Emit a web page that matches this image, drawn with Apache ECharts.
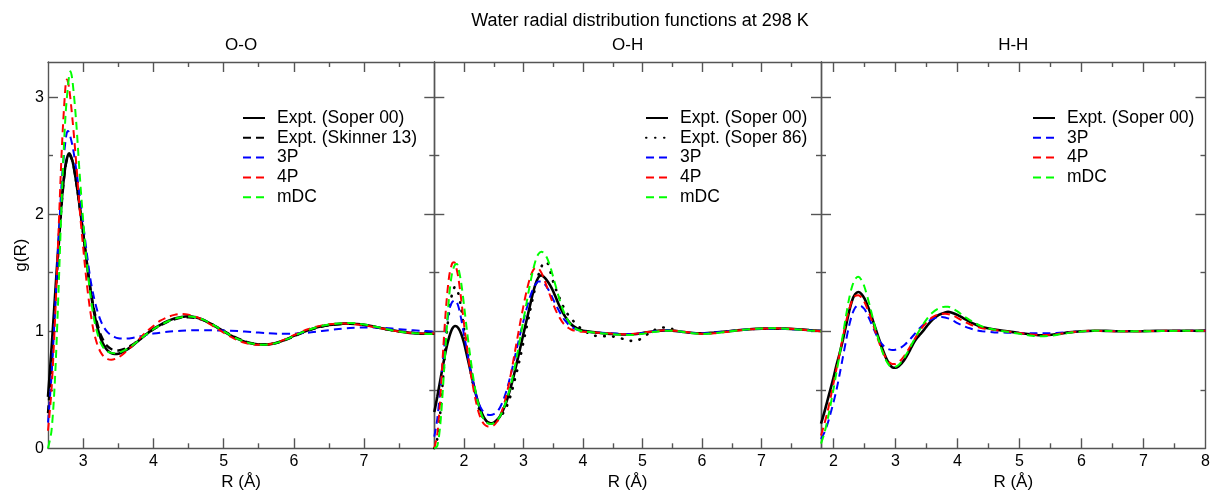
<!DOCTYPE html>
<html>
<head>
<meta charset="utf-8">
<script src="https://cdn.jsdelivr.net/npm/echarts@6/dist/echarts.min.js"></script>
<style>
html,body{margin:0;padding:0;background:#fff;}
#chart{width:1212px;height:490px;}
</style>
</head>
<body>
<div id="chart"></div>
<script>
// ---------- DATA ----------
const mainTitle = 'Water radial distribution functions at 298 K';
const panelTitles = ['O-O', 'O-H', 'H-H'];
const xMins = [2.5, 1.5, 1.8];
const xMaxs = [8, 8, 8];
const yMin = 0, yMax = 3.3;
const xLabelVals = [[3,4,5,6,7],[2,3,4,5,6,7],[2,3,4,5,6,7,8]];
const xMajorTicks = [[3,4,5,6,7],[2,3,4,5,6,7],[2,3,4,5,6,7]];
const xMinorTicks = [[3.5,4.5,5.5,6.5,7.5],[2.5,3.5,4.5,5.5,6.5,7.5],[2.5,3.5,4.5,5.5,6.5,7.5]];
const yLabelVals = [0,1,2,3];
const yMajorTicks = [1,2,3];
const yMinorTicks = [0.5,1.5,2.5];
const xName = 'R (Å)';
const yName = 'g(R)';

// O-O
const ooSoper00 = [[2.50,0.44],[2.55,0.85],[2.60,1.30],[2.65,1.75],[2.70,2.15],[2.75,2.42],[2.80,2.52],[2.85,2.45],[2.90,2.28],[2.95,2.07],[3.00,1.84],[3.05,1.60],[3.10,1.37],[3.15,1.18],[3.20,1.04],[3.25,0.94],[3.30,0.875],[3.35,0.835],[3.40,0.813],[3.45,0.805],[3.50,0.807],[3.60,0.835],[3.70,0.875],[3.80,0.925],[3.90,0.975],[4.00,1.02],[4.10,1.055],[4.20,1.085],[4.30,1.108],[4.40,1.122],[4.50,1.128],[4.60,1.12],[4.70,1.10],[4.80,1.07],[4.90,1.035],[5.00,1.00],[5.10,0.965],[5.20,0.935],[5.30,0.91],[5.40,0.895],[5.50,0.887],[5.60,0.886],[5.70,0.893],[5.80,0.91],[5.90,0.933],[6.00,0.96],[6.10,0.985],[6.20,1.008],[6.30,1.028],[6.40,1.043],[6.50,1.054],[6.60,1.061],[6.70,1.065],[6.80,1.066],[6.90,1.062],[7.00,1.055],[7.10,1.045],[7.20,1.032],[7.30,1.02],[7.40,1.008],[7.50,0.998],[7.60,0.99],[7.70,0.984],[7.80,0.98],[7.90,0.978],[8.00,0.978]];
const ooSkinner13 = [[2.50,0.30],[2.55,0.72],[2.60,1.22],[2.65,1.70],[2.70,2.12],[2.75,2.41],[2.80,2.51],[2.85,2.45],[2.90,2.28],[2.95,2.07],[3.00,1.84],[3.05,1.60],[3.10,1.38],[3.15,1.20],[3.20,1.07],[3.25,0.97],[3.30,0.91],[3.35,0.87],[3.40,0.848],[3.45,0.838],[3.50,0.836],[3.60,0.852],[3.70,0.885],[3.80,0.93],[3.90,0.975],[4.00,1.015],[4.10,1.05],[4.20,1.08],[4.30,1.102],[4.40,1.116],[4.50,1.12],[4.60,1.114],[4.70,1.097],[4.80,1.07],[4.90,1.037],[5.00,1.003],[5.10,0.97],[5.20,0.94],[5.30,0.915],[5.40,0.898],[5.50,0.89],[5.60,0.888],[5.70,0.894],[5.80,0.908],[5.90,0.93],[6.00,0.956],[6.10,0.982],[6.20,1.005],[6.30,1.025],[6.40,1.04],[6.50,1.051],[6.60,1.058],[6.70,1.062],[6.80,1.063],[6.90,1.06],[7.00,1.053],[7.10,1.043],[7.20,1.031],[7.30,1.019],[7.40,1.008],[7.50,0.999],[7.60,0.992],[7.70,0.986],[7.80,0.983],[7.90,0.981],[8.00,0.98]];
const oo3P = [[2.50,0.22],[2.55,0.62],[2.60,1.18],[2.65,1.78],[2.70,2.32],[2.75,2.63],[2.78,2.71],[2.80,2.70],[2.85,2.58],[2.90,2.39],[2.95,2.16],[3.00,1.92],[3.05,1.68],[3.10,1.46],[3.15,1.30],[3.20,1.18],[3.25,1.09],[3.30,1.03],[3.35,0.99],[3.40,0.967],[3.45,0.95],[3.50,0.94],[3.55,0.937],[3.60,0.937],[3.70,0.943],[3.80,0.955],[3.90,0.968],[4.00,0.98],[4.20,0.995],[4.40,1.004],[4.60,1.008],[4.80,1.008],[5.00,1.006],[5.20,1.001],[5.40,0.993],[5.60,0.984],[5.80,0.978],[6.00,0.979],[6.20,0.988],[6.40,1.002],[6.60,1.016],[6.80,1.027],[7.00,1.033],[7.20,1.031],[7.40,1.023],[7.60,1.013],[7.80,1.004],[8.00,0.998]];
const oo4P = [[2.50,0.15],[2.55,0.50],[2.60,1.10],[2.65,1.85],[2.70,2.60],[2.75,3.10],[2.77,3.15],[2.80,3.08],[2.85,2.80],[2.90,2.45],[2.95,2.05],[3.00,1.72],[3.05,1.42],[3.10,1.18],[3.15,1.00],[3.20,0.89],[3.25,0.82],[3.30,0.78],[3.35,0.762],[3.40,0.757],[3.50,0.775],[3.60,0.82],[3.70,0.875],[3.80,0.935],[3.90,0.995],[4.00,1.045],[4.10,1.09],[4.20,1.12],[4.30,1.14],[4.40,1.148],[4.50,1.142],[4.60,1.125],[4.70,1.097],[4.80,1.062],[4.90,1.025],[5.00,0.988],[5.10,0.953],[5.20,0.923],[5.30,0.902],[5.40,0.889],[5.50,0.884],[5.60,0.885],[5.70,0.895],[5.80,0.913],[5.90,0.938],[6.00,0.966],[6.10,0.993],[6.20,1.017],[6.30,1.036],[6.40,1.05],[6.50,1.059],[6.60,1.064],[6.70,1.066],[6.80,1.064],[6.90,1.058],[7.00,1.05],[7.20,1.03],[7.40,1.008],[7.60,0.99],[7.80,0.982],[8.00,0.98]];
const ooMDC = [[2.50,0.0],[2.55,0.15],[2.60,0.60],[2.65,1.35],[2.70,2.20],[2.75,2.85],[2.80,3.18],[2.82,3.22],[2.85,3.13],[2.90,2.80],[2.95,2.35],[3.00,1.95],[3.05,1.60],[3.10,1.33],[3.15,1.12],[3.20,0.99],[3.25,0.90],[3.30,0.85],[3.35,0.825],[3.40,0.815],[3.45,0.812],[3.50,0.815],[3.60,0.84],[3.70,0.878],[3.80,0.925],[3.90,0.973],[4.00,1.017],[4.10,1.053],[4.20,1.083],[4.30,1.106],[4.40,1.12],[4.50,1.126],[4.60,1.12],[4.70,1.101],[4.80,1.072],[4.90,1.037],[5.00,1.0],[5.10,0.965],[5.20,0.935],[5.30,0.911],[5.40,0.895],[5.50,0.886],[5.60,0.885],[5.70,0.892],[5.80,0.909],[5.90,0.932],[6.00,0.96],[6.10,0.986],[6.20,1.01],[6.30,1.03],[6.40,1.046],[6.50,1.057],[6.60,1.065],[6.70,1.069],[6.80,1.07],[6.90,1.066],[7.00,1.058],[7.10,1.047],[7.20,1.034],[7.30,1.021],[7.40,1.009],[7.50,0.998],[7.60,0.99],[7.70,0.984],[7.80,0.98],[7.90,0.977],[8.00,0.976]];

// O-H
const ohSoper00 = [[1.50,0.31],[1.55,0.44],[1.60,0.58],[1.65,0.72],[1.70,0.85],[1.75,0.95],[1.80,1.02],[1.85,1.045],[1.90,1.03],[1.95,0.98],[2.00,0.90],[2.05,0.79],[2.10,0.68],[2.15,0.57],[2.20,0.46],[2.25,0.37],[2.30,0.30],[2.35,0.25],[2.40,0.222],[2.45,0.213],[2.50,0.22],[2.55,0.24],[2.60,0.27],[2.65,0.32],[2.70,0.38],[2.75,0.46],[2.80,0.55],[2.85,0.65],[2.90,0.76],[2.95,0.87],[3.00,0.98],[3.05,1.09],[3.10,1.20],[3.15,1.31],[3.20,1.40],[3.25,1.46],[3.30,1.477],[3.35,1.46],[3.40,1.43],[3.45,1.39],[3.50,1.34],[3.55,1.28],[3.60,1.22],[3.65,1.17],[3.70,1.125],[3.75,1.09],[3.80,1.06],[3.85,1.04],[3.90,1.025],[3.95,1.013],[4.00,1.005],[4.10,0.997],[4.20,0.99],[4.30,0.985],[4.40,0.98],[4.50,0.977],[4.60,0.974],[4.70,0.972],[4.80,0.972],[4.90,0.976],[5.00,0.984],[5.10,0.993],[5.20,1.0],[5.30,1.005],[5.40,1.007],[5.50,1.005],[5.60,1.0],[5.70,0.993],[5.80,0.987],[5.90,0.983],[6.00,0.982],[6.10,0.984],[6.20,0.988],[6.30,0.993],[6.40,0.998],[6.50,1.003],[6.60,1.008],[6.70,1.013],[6.80,1.017],[6.90,1.02],[7.00,1.022],[7.20,1.023],[7.40,1.022],[7.60,1.017],[7.80,1.01],[8.00,1.003]];
const ohSoper86 = [[1.50,0.0],[1.55,0.08],[1.60,0.30],[1.65,0.62],[1.70,0.93],[1.75,1.17],[1.80,1.32],[1.85,1.38],[1.90,1.33],[1.95,1.20],[2.00,1.02],[2.05,0.85],[2.10,0.69],[2.15,0.55],[2.20,0.43],[2.25,0.34],[2.30,0.28],[2.35,0.24],[2.40,0.22],[2.45,0.215],[2.50,0.22],[2.55,0.235],[2.60,0.26],[2.65,0.295],[2.70,0.34],[2.75,0.40],[2.80,0.48],[2.85,0.58],[2.90,0.68],[2.95,0.79],[3.00,0.91],[3.05,1.03],[3.10,1.15],[3.15,1.27],[3.20,1.38],[3.25,1.48],[3.30,1.55],[3.35,1.59],[3.40,1.585],[3.45,1.51],[3.50,1.42],[3.55,1.35],[3.60,1.29],[3.65,1.23],[3.70,1.18],[3.75,1.14],[3.80,1.11],[3.85,1.08],[3.90,1.055],[3.95,1.03],[4.00,1.01],[4.10,0.98],[4.20,0.962],[4.30,0.958],[4.40,0.958],[4.50,0.955],[4.60,0.945],[4.70,0.93],[4.80,0.918],[4.90,0.92],[5.00,0.945],[5.10,0.98],[5.20,1.01],[5.30,1.03],[5.40,1.032],[5.50,1.02]];
const oh3P = [[1.50,0.10],[1.55,0.25],[1.60,0.50],[1.65,0.78],[1.70,1.02],[1.75,1.18],[1.80,1.25],[1.85,1.265],[1.90,1.22],[1.95,1.11],[2.00,0.97],[2.05,0.83],[2.10,0.69],[2.15,0.57],[2.20,0.46],[2.25,0.38],[2.30,0.33],[2.35,0.30],[2.40,0.287],[2.45,0.285],[2.50,0.292],[2.55,0.31],[2.60,0.345],[2.65,0.40],[2.70,0.47],[2.75,0.56],[2.80,0.66],[2.85,0.77],[2.90,0.88],[2.95,0.99],[3.00,1.09],[3.05,1.19],[3.10,1.28],[3.15,1.35],[3.20,1.40],[3.25,1.425],[3.30,1.425],[3.35,1.405],[3.40,1.37],[3.45,1.325],[3.50,1.27],[3.55,1.22],[3.60,1.17],[3.65,1.125],[3.70,1.09],[3.75,1.06],[3.80,1.04],[3.85,1.025],[3.90,1.013],[4.00,1.0],[4.20,0.99],[4.40,0.985],[4.60,0.978],[4.80,0.975],[5.00,0.985],[5.20,1.0],[5.40,1.008],[5.60,1.0],[5.80,0.988],[6.00,0.983],[6.20,0.988],[6.40,0.998],[6.60,1.008],[6.80,1.016],[7.00,1.02],[7.20,1.022],[7.40,1.02],[7.60,1.015],[7.80,1.008],[8.00,1.002]];
const oh4P = [[1.50,0.0],[1.55,0.12],[1.60,0.42],[1.65,0.85],[1.70,1.22],[1.75,1.47],[1.80,1.58],[1.83,1.59],[1.85,1.58],[1.90,1.47],[1.95,1.28],[2.00,1.06],[2.05,0.86],[2.10,0.68],[2.15,0.53],[2.20,0.40],[2.25,0.30],[2.30,0.235],[2.35,0.20],[2.40,0.187],[2.45,0.186],[2.50,0.197],[2.55,0.225],[2.60,0.27],[2.65,0.34],[2.70,0.43],[2.75,0.54],[2.80,0.67],[2.85,0.81],[2.90,0.95],[2.95,1.09],[3.00,1.22],[3.05,1.34],[3.10,1.44],[3.15,1.51],[3.20,1.54],[3.25,1.535],[3.30,1.50],[3.35,1.44],[3.40,1.37],[3.45,1.30],[3.50,1.23],[3.55,1.17],[3.60,1.12],[3.65,1.08],[3.70,1.05],[3.75,1.03],[3.80,1.015],[3.85,1.005],[3.90,1.0],[4.00,0.995],[4.20,0.99],[4.40,0.982],[4.60,0.975],[4.70,0.974],[4.80,0.976],[5.00,0.986],[5.20,1.0],[5.40,1.008],[5.60,1.002],[5.80,0.99],[6.00,0.978],[6.20,0.982],[6.40,0.994],[6.60,1.006],[6.80,1.016],[7.00,1.022],[7.20,1.025],[7.40,1.023],[7.60,1.017],[7.80,1.008],[8.00,1.0]];
const ohMDC = [[1.50,0.0],[1.55,0.02],[1.60,0.20],[1.65,0.55],[1.70,0.95],[1.75,1.30],[1.80,1.50],[1.85,1.57],[1.88,1.575],[1.90,1.55],[1.95,1.42],[2.00,1.22],[2.05,1.00],[2.10,0.80],[2.15,0.62],[2.20,0.47],[2.25,0.36],[2.30,0.28],[2.35,0.235],[2.40,0.213],[2.45,0.208],[2.50,0.215],[2.55,0.235],[2.60,0.27],[2.65,0.32],[2.70,0.39],[2.75,0.47],[2.80,0.57],[2.85,0.69],[2.90,0.82],[2.95,0.96],[3.00,1.10],[3.05,1.24],[3.10,1.38],[3.15,1.50],[3.20,1.60],[3.25,1.66],[3.30,1.68],[3.35,1.665],[3.40,1.62],[3.45,1.55],[3.50,1.46],[3.55,1.37],[3.60,1.28],[3.65,1.20],[3.70,1.14],[3.75,1.09],[3.80,1.055],[3.85,1.03],[3.90,1.015],[4.00,1.0],[4.20,0.988],[4.40,0.978],[4.60,0.97],[4.80,0.967],[5.00,0.978],[5.20,0.995],[5.40,1.005],[5.60,1.0],[5.80,0.985],[6.00,0.977],[6.20,0.982],[6.40,0.994],[6.60,1.007],[6.80,1.017],[7.00,1.023],[7.20,1.025],[7.40,1.022],[7.60,1.015],[7.80,1.007],[8.00,1.0]];

// H-H
const hhSoper00 = [[1.80,0.21],[1.85,0.30],[1.90,0.40],[1.95,0.50],[2.00,0.60],[2.05,0.71],[2.10,0.81],[2.15,0.92],[2.20,1.04],[2.25,1.16],[2.30,1.26],[2.35,1.315],[2.40,1.335],[2.45,1.32],[2.50,1.28],[2.55,1.22],[2.60,1.15],[2.65,1.07],[2.70,0.99],[2.75,0.91],[2.80,0.835],[2.85,0.77],[2.90,0.72],[2.95,0.692],[3.00,0.688],[3.05,0.70],[3.10,0.725],[3.15,0.76],[3.20,0.805],[3.25,0.855],[3.30,0.905],[3.35,0.945],[3.40,0.975],[3.45,1.005],[3.50,1.04],[3.60,1.10],[3.70,1.14],[3.80,1.16],[3.85,1.165],[3.90,1.16],[4.00,1.14],[4.10,1.11],[4.20,1.08],[4.30,1.055],[4.40,1.035],[4.50,1.025],[4.60,1.015],[4.80,1.0],[5.00,0.985],[5.20,0.972],[5.30,0.966],[5.40,0.966],[5.60,0.975],[5.80,0.99],[6.00,1.0],[6.20,1.004],[6.40,1.003],[6.60,1.0],[6.80,1.0],[7.00,1.001],[7.20,1.003],[7.40,1.004],[7.60,1.004],[7.80,1.004],[8.00,1.005]];
const hh3P = [[1.80,0.08],[1.85,0.13],[1.90,0.20],[1.95,0.29],[2.00,0.39],[2.05,0.50],[2.10,0.63],[2.15,0.77],[2.20,0.91],[2.25,1.04],[2.30,1.14],[2.35,1.20],[2.40,1.222],[2.45,1.215],[2.50,1.19],[2.55,1.14],[2.60,1.08],[2.65,1.02],[2.70,0.96],[2.75,0.915],[2.80,0.88],[2.85,0.857],[2.90,0.845],[2.95,0.84],[3.00,0.842],[3.05,0.85],[3.10,0.865],[3.15,0.885],[3.20,0.91],[3.30,0.97],[3.40,1.03],[3.50,1.075],[3.60,1.105],[3.70,1.12],[3.75,1.122],[3.80,1.118],[3.90,1.10],[4.00,1.07],[4.10,1.045],[4.20,1.025],[4.30,1.01],[4.40,1.0],[4.60,0.99],[4.80,0.988],[5.00,0.986],[5.20,0.983],[5.40,0.982],[5.60,0.985],[5.80,0.992],[6.00,1.0],[6.20,1.003],[6.40,1.003],[6.60,1.001],[7.00,1.001],[7.40,1.003],[8.00,1.004]];
const hh4P = [[1.80,0.11],[1.85,0.20],[1.90,0.30],[1.95,0.42],[2.00,0.55],[2.05,0.68],[2.10,0.81],[2.15,0.94],[2.20,1.07],[2.25,1.18],[2.30,1.26],[2.35,1.30],[2.40,1.307],[2.45,1.29],[2.50,1.25],[2.55,1.19],[2.60,1.12],[2.65,1.04],[2.70,0.96],[2.75,0.885],[2.80,0.82],[2.85,0.77],[2.90,0.735],[2.95,0.72],[3.00,0.72],[3.05,0.735],[3.10,0.76],[3.15,0.795],[3.20,0.835],[3.30,0.925],[3.40,1.01],[3.50,1.075],[3.60,1.12],[3.70,1.145],[3.80,1.15],[3.90,1.14],[4.00,1.115],[4.10,1.085],[4.20,1.06],[4.30,1.04],[4.40,1.025],[4.60,1.01],[4.80,0.998],[5.00,0.985],[5.20,0.973],[5.40,0.968],[5.60,0.975],[5.80,0.99],[6.00,1.0],[6.20,1.004],[6.40,1.002],[6.60,1.0],[7.00,1.001],[7.40,1.004],[8.00,1.005]];
const hhMDC = [[1.80,0.04],[1.85,0.12],[1.90,0.23],[1.95,0.36],[2.00,0.50],[2.05,0.65],[2.10,0.80],[2.15,0.96],[2.20,1.12],[2.25,1.27],[2.30,1.38],[2.35,1.445],[2.40,1.465],[2.45,1.44],[2.50,1.38],[2.55,1.29],[2.60,1.19],[2.65,1.08],[2.70,0.98],[2.75,0.89],[2.80,0.81],[2.85,0.75],[2.90,0.71],[2.95,0.695],[3.00,0.697],[3.05,0.712],[3.10,0.74],[3.15,0.78],[3.20,0.825],[3.30,0.925],[3.40,1.02],[3.50,1.10],[3.60,1.16],[3.70,1.195],[3.80,1.21],[3.85,1.21],[3.90,1.20],[4.00,1.17],[4.10,1.13],[4.20,1.095],[4.30,1.065],[4.40,1.04],[4.50,1.025],[4.60,1.012],[4.80,0.995],[5.00,0.978],[5.20,0.962],[5.30,0.957],[5.40,0.957],[5.60,0.968],[5.80,0.986],[6.00,0.998],[6.20,1.004],[6.40,1.003],[6.60,1.0],[7.00,1.0],[7.40,1.003],[8.00,1.005]];

// ---------- STYLE / LAYOUT ----------
const FONT = 'Liberation Sans, Arial, Helvetica, sans-serif';
const AXIS_COLOR = '#555';
const gridLefts = [48, 434.3, 821];
const gridWidths = [386.3, 386.7, 384.5];
const gridTop = 62, gridHeight = 386.3;

const styles = {
  soper00:   {color: '#000000', width: 2.6, type: 'solid'},
  skinner13: {color: '#000000', width: 2.4, type: [8, 5]},
  soper86:   {color: '#000000', width: 2.6, type: [0.5, 8.5], cap: 'round'},
  p3:        {color: '#0000ff', width: 2, type: [8, 5]},
  p4:        {color: '#ff0000', width: 2, type: [8, 5]},
  mdc:       {color: '#00ff00', width: 2, type: [8, 5]}
};

const panels = [
  [['Expt. (Soper 00)', ooSoper00, styles.soper00], ['Expt. (Skinner 13)', ooSkinner13, styles.skinner13], ['3P', oo3P, styles.p3], ['4P', oo4P, styles.p4], ['mDC', ooMDC, styles.mdc]],
  [['Expt. (Soper 00)', ohSoper00, styles.soper00], ['Expt. (Soper 86)', ohSoper86, styles.soper86], ['3P', oh3P, styles.p3], ['4P', oh4P, styles.p4], ['mDC', ohMDC, styles.mdc]],
  [['Expt. (Soper 00)', hhSoper00, styles.soper00], ['3P', hh3P, styles.p3], ['4P', hh4P, styles.p4], ['mDC', hhMDC, styles.mdc]]
];
const legendLefts = [242, 645, 1032];

const grids = [], xAxes = [], yAxes = [], series = [], legends = [];
const titles = [{
  text: mainTitle, left: 640, top: 12, textAlign: 'center', padding: 0,
  textStyle: {fontSize: 18, fontWeight: 'normal', color: '#000', fontFamily: FONT}
}];

function tickAxisLine(show) {
  return {show: show, onZero: false, lineStyle: {color: AXIS_COLOR, width: 1.4}};
}

for (let i = 0; i < 3; i++) {
  grids.push({left: gridLefts[i], top: gridTop, width: gridWidths[i], height: gridHeight, containLabel: false, outerBoundsMode: 'none'});
  titles.push({
    text: panelTitles[i], left: gridLefts[i] + gridWidths[i] / 2, top: 37, textAlign: 'center', padding: 0,
    textStyle: {fontSize: 17, fontWeight: 'normal', color: '#000', fontFamily: FONT}
  });
  const xb = {type: 'value', gridIndex: i, min: xMins[i], max: xMaxs[i], splitLine: {show: false}, axisPointer: {show: false}};
  xAxes.push(Object.assign({}, xb, {
    position: 'bottom', axisLine: tickAxisLine(true),
    axisTick: {show: true, inside: true, length: 10, customValues: xMajorTicks[i], lineStyle: {color: AXIS_COLOR, width: 1.4}},
    axisLabel: {show: true, customValues: xLabelVals[i], margin: 5, fontSize: 16, color: '#000', fontFamily: FONT},
    name: xName, nameLocation: 'middle', nameGap: 23,
    nameTextStyle: {fontSize: 17, color: '#000', fontFamily: FONT}
  }));
  xAxes.push(Object.assign({}, xb, {
    position: 'bottom', axisLine: tickAxisLine(false),
    axisTick: {show: true, inside: true, length: 5, customValues: xMinorTicks[i], lineStyle: {color: AXIS_COLOR, width: 1.4}},
    axisLabel: {show: false}
  }));
  xAxes.push(Object.assign({}, xb, {
    position: 'top', axisLine: tickAxisLine(true),
    axisTick: {show: true, inside: true, length: 10, customValues: xMajorTicks[i], lineStyle: {color: AXIS_COLOR, width: 1.4}},
    axisLabel: {show: false}
  }));
  xAxes.push(Object.assign({}, xb, {
    position: 'top', axisLine: tickAxisLine(false),
    axisTick: {show: true, inside: true, length: 5, customValues: xMinorTicks[i], lineStyle: {color: AXIS_COLOR, width: 1.4}},
    axisLabel: {show: false}
  }));

  const yb = {type: 'value', gridIndex: i, min: yMin, max: yMax, splitLine: {show: false}, axisPointer: {show: false}};
  yAxes.push(Object.assign({}, yb, {
    position: 'left', axisLine: tickAxisLine(true),
    axisTick: {show: true, inside: true, length: 10, customValues: yMajorTicks, lineStyle: {color: AXIS_COLOR, width: 1.4}},
    axisLabel: {show: i === 0, customValues: yLabelVals, margin: 4, fontSize: 16, color: '#000', fontFamily: FONT},
    name: i === 0 ? yName : '', nameLocation: 'middle', nameGap: 18,
    nameTextStyle: {fontSize: 17, color: '#000', fontFamily: FONT}
  }));
  yAxes.push(Object.assign({}, yb, {
    position: 'left', axisLine: tickAxisLine(false),
    axisTick: {show: true, inside: true, length: 5, customValues: yMinorTicks, lineStyle: {color: AXIS_COLOR, width: 1.4}},
    axisLabel: {show: false}
  }));
  yAxes.push(Object.assign({}, yb, {
    position: 'right', axisLine: tickAxisLine(true),
    axisTick: {show: true, inside: true, length: 10, customValues: yMajorTicks, lineStyle: {color: AXIS_COLOR, width: 1.4}},
    axisLabel: {show: false}
  }));
  yAxes.push(Object.assign({}, yb, {
    position: 'right', axisLine: tickAxisLine(false),
    axisTick: {show: true, inside: true, length: 5, customValues: yMinorTicks, lineStyle: {color: AXIS_COLOR, width: 1.4}},
    axisLabel: {show: false}
  }));

  const names = [];
  panels[i].forEach(function (s) {
    names.push(s[0]);
    series.push({
      type: 'line', name: s[0], data: s[1], xAxisIndex: 4 * i, yAxisIndex: 4 * i,
      showSymbol: false, symbol: 'none', smooth: 0.3, clip: true, silent: true,
      lineStyle: {color: s[2].color, width: s[2].width, type: s[2].type, cap: s[2].cap || 'butt'},
      itemStyle: {color: s[2].color}
    });
  });
  legends.push({
    data: names, orient: 'vertical', left: legendLefts[i], top: 109, padding: 0,
    itemWidth: 22, itemHeight: 10, itemGap: 1.8, selectedMode: false,
    itemStyle: {color: 'rgba(0,0,0,0)', borderColor: 'rgba(0,0,0,0)', borderWidth: 0, opacity: 0},
    textStyle: {fontSize: 17.5, lineHeight: 18, color: '#000', fontFamily: FONT, padding: [0, 0, 0, 7]}
  });
}

const chart = echarts.init(document.getElementById('chart'), null, {renderer: 'canvas'});
chart.setOption({
  animation: false,
  backgroundColor: '#fff',
  textStyle: {fontFamily: FONT},
  title: titles,
  grid: grids,
  xAxis: xAxes,
  yAxis: yAxes,
  legend: legends,
  series: series
});
</script>
</body>
</html>
